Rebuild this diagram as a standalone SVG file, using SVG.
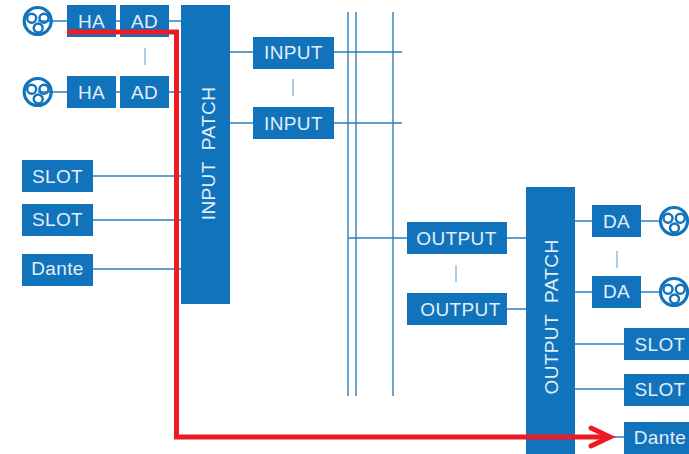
<svg xmlns="http://www.w3.org/2000/svg" width="689" height="454" viewBox="0 0 689 454">
<style>
.b{fill:#1173bb}
.t{fill:#e3eef8;font-family:"Liberation Sans",Arial,sans-serif;font-size:19px;text-anchor:middle;letter-spacing:.4px}
.c{stroke:#2a80c2;stroke-width:1.4;fill:none}
.f{stroke:#8fbde3;stroke-width:1.5;fill:none}
.r{fill:none;stroke:#1173bb;stroke-width:3.2}
.h{fill:none;stroke:#1173bb;stroke-width:2.4}
</style>
<defs>
<g id="jack"><circle r="13.500" class="r"/><circle cx="-6" cy="-2.700" r="4.500" class="h"/><circle cx="6.300" cy="-2.700" r="4.500" class="h"/><circle cx="0.500" cy="7" r="4.500" class="h"/></g>
</defs>
<g id="connectors">
<path class="c" d="M38 21H67M116 21H120M169 21H181M38 92H67M116 92H120M169 92H181M93 176H181M93 220H181M93 269H181M230 52H253M334 52H402M230 123H253M334 123H402M348 238H407M507 238H526M507 309H526M575 221H592M641 221H660M575 292H592M641 292H660M575 344H624M575 389H624M610 437H624"/>
<path class="c" d="M348 12V396M356 12V396M393 12V396"/>
<path class="f" d="M145 48V65M293 79V96M456 265V282M617 251V268"/>
</g>
<g id="jack-in-1"><use href="#jack" x="37.700" y="21"/></g>
<g id="jack-in-2"><use href="#jack" x="37.700" y="92"/></g>
<g id="ha-1"><rect class="b" x="67" y="5" width="49" height="32"/><text class="t" x="91.500" y="28">HA</text></g>
<g id="ad-1"><rect class="b" x="120" y="5" width="49" height="32"/><text class="t" x="144.500" y="28">AD</text></g>
<g id="ha-2"><rect class="b" x="67" y="76" width="49" height="32"/><text class="t" x="91.500" y="99">HA</text></g>
<g id="ad-2"><rect class="b" x="120" y="76" width="49" height="32"/><text class="t" x="144.500" y="99">AD</text></g>
<g id="slot-in-1"><rect class="b" x="22" y="160" width="71" height="32"/><text class="t" x="57.500" y="183">SLOT</text></g>
<g id="slot-in-2"><rect class="b" x="22" y="204" width="71" height="32"/><text class="t" x="57.500" y="226">SLOT</text></g>
<g id="dante-in"><rect class="b" x="22" y="254" width="71" height="32"/><text class="t" x="57.500" y="275">Dante</text></g>
<g id="input-patch"><rect class="b" x="181" y="5" width="49" height="299"/><text class="t" transform="translate(214.500 153.500) rotate(-90)" xml:space="preserve">INPUT  PATCH</text></g>
<g id="input-1"><rect class="b" x="253" y="37" width="81" height="32"/><text class="t" x="293.500" y="59">INPUT</text></g>
<g id="input-2"><rect class="b" x="253" y="107" width="81" height="32"/><text class="t" x="293.500" y="130">INPUT</text></g>
<g id="output-1"><rect class="b" x="407" y="222" width="100" height="32"/><text class="t" x="456.500" y="245">OUTPUT</text></g>
<g id="output-2"><rect class="b" x="407" y="293" width="100" height="32"/><text class="t" x="460.500" y="316">OUTPUT</text></g>
<g id="output-patch"><rect class="b" x="526" y="187" width="49" height="267"/><text class="t" transform="translate(557.500 317) rotate(-90)" xml:space="preserve">OUTPUT  PATCH</text></g>
<g id="da-1"><rect class="b" x="592" y="205" width="49" height="32"/><text class="t" x="616.500" y="228">DA</text></g>
<g id="da-2"><rect class="b" x="592" y="276" width="49" height="32"/><text class="t" x="616.500" y="298">DA</text></g>
<g id="jack-out-1"><use href="#jack" x="674" y="221"/></g>
<g id="jack-out-2"><use href="#jack" x="674" y="292"/></g>
<g id="slot-out-1"><rect class="b" x="624" y="328" width="65" height="32"/><text class="t" x="660" y="351">SLOT</text></g>
<g id="slot-out-2"><rect class="b" x="624" y="374" width="65" height="32"/><text class="t" x="660" y="396">SLOT</text></g>
<g id="dante-out"><rect class="b" x="624" y="422" width="65" height="32"/><text class="t" x="660" y="444">Dante</text></g>
<g id="red-route">
<path d="M67 32H176.500V437H608" fill="none" stroke="#ed1c24" stroke-width="5"/>
<path d="M591 428L610 437L591 446" fill="none" stroke="#ed1c24" stroke-width="5" stroke-linecap="round" stroke-linejoin="miter"/>
</g>
</svg>
